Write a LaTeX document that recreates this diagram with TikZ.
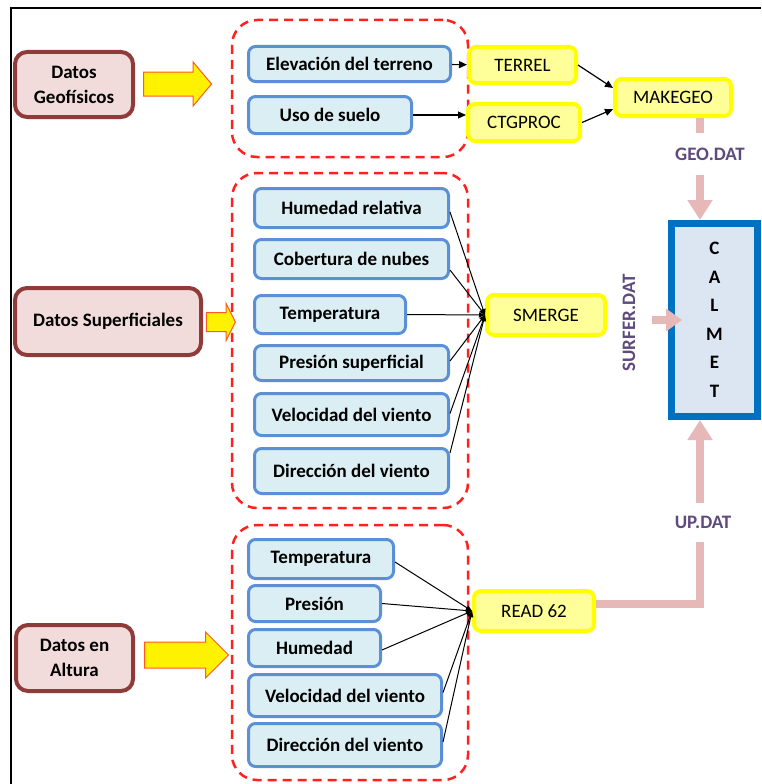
\documentclass[tikz,border=0pt]{standalone}
\usepackage{fontspec}
\setmainfont{Carlito}
\usetikzlibrary{arrows.meta,shapes.arrows}

\definecolor{datoborde}{HTML}{8E3B3A}
\definecolor{datofondo}{HTML}{F2DCDB}
\definecolor{varborde}{HTML}{5B8FD6}
\definecolor{varfondo}{HTML}{DAEEF3}
\definecolor{procborde}{HTML}{FFFF00}
\definecolor{procfondo}{HTML}{FFFF99}
\definecolor{grupoborde}{HTML}{FF2020}
\definecolor{rosa}{HTML}{E6B9B8}
\definecolor{etiq}{HTML}{5F4A7D}
\definecolor{calmetborde}{HTML}{0070C0}
\definecolor{calmetfondo}{HTML}{DCE6F2}
\definecolor{flechaborde}{HTML}{FF5A1F}

\newcommand{\letra}{\fontsize{19}{25}\selectfont}

\begin{document}
\begin{tikzpicture}[x=1pt,y=-1pt]
\tikzstyle{every node}+=[inner sep=0pt]
\tikzstyle{grupo}=[draw=grupoborde, line width=2.5pt, dash pattern=on 9pt off 6pt, rounded corners=25pt]
\tikzstyle{dato}=[draw=datoborde, fill=datofondo, line width=4pt, rounded corners=12pt, align=center, font=\letra\bfseries]
\tikzstyle{var}=[draw=varborde, fill=varfondo, line width=3pt, rounded corners=7pt, font=\letra\bfseries]
\tikzstyle{proc}=[draw=procborde, fill=procfondo, line width=4pt, rounded corners=7pt, font=\letra]
\tikzstyle{flecha}=[single arrow, draw=flechaborde, fill=yellow, line width=1pt]
\tikzstyle{etiqueta}=[text=etiq, font=\letra\bfseries]
\tikzstyle{conector}=[line width=1.2pt, -{Triangle[length=8pt,width=7pt]}]
\tikzstyle{fino}=[line width=1pt, -{Triangle[length=6pt,width=5pt]}]
\tikzstyle{rosalinea}=[draw=rosa, line width=8pt]
\tikzstyle{rosaflecha}=[rosalinea, -{Triangle[length=20pt,width=24pt]}]

\useasboundingbox (0,0) rectangle (761,784);
\draw[line width=1.5pt] (11,784) -- (11,8) -- (761,8);

\node[grupo, minimum width=236pt, minimum height=137pt] (g1) at (350,88.5) {};
\node[grupo, minimum width=236pt, minimum height=335pt] (g2) at (350,340.5) {};
\node[grupo, minimum width=236pt, minimum height=255pt] (g3) at (350,652.5) {};

\node[dato, minimum width=118pt, minimum height=65pt] (geo) at (74,84.5) {Datos\\Geofísicos};
\node[dato, minimum width=186pt, minimum height=67pt] (sup) at (108,321.5) {Datos Superficiales};
\node[dato, minimum width=117pt, minimum height=66pt] (alt) at (74.5,658) {Datos en\\Altura};

\node[flecha, minimum height=68pt, inner ysep=11.5pt, single arrow head extend=10pt, single arrow tip angle=100] (f1) at (172.5,84) {};
\node[flecha, minimum height=29pt, inner ysep=9pt, single arrow head extend=9pt, single arrow tip angle=127] (f2) at (218.5,322) {};
\node[flecha, minimum height=84pt, inner ysep=12.5pt, single arrow head extend=10pt, single arrow tip angle=90] (f3) at (180,655) {};

\node[var, minimum width=202pt, minimum height=35pt] (elev) at (349.5,64) {Elevación del terreno};
\node[var, minimum width=163pt, minimum height=37pt] (uso) at (330,115) {Uso de suelo};

\node[var, minimum width=194pt, minimum height=39pt] (hr) at (351.5,208) {Humedad relativa};
\node[var, minimum width=194pt, minimum height=39pt] (cob) at (351.5,259) {Cobertura de nubes};
\node[var, minimum width=151pt, minimum height=38pt] (temp) at (330,314.5) {Temperatura};
\node[var, minimum width=194pt, minimum height=35pt] (pres) at (351.5,363) {Presión superficial};
\node[var, minimum width=194pt, minimum height=42pt] (vel) at (351.5,414.5) {Velocidad del viento};
\node[var, minimum width=194pt, minimum height=45pt] (dir) at (351.5,471) {Dirección del viento};

\node[var, minimum width=145pt, minimum height=39pt] (temp2) at (321,559) {Temperatura};
\node[var, minimum width=132pt, minimum height=36pt] (pres2) at (314.5,603.5) {Presión};
\node[var, minimum width=132pt, minimum height=37pt] (hum2) at (314.5,648) {Humedad};
\node[var, minimum width=193pt, minimum height=42pt] (vel2) at (345,695.5) {Velocidad del viento};
\node[var, minimum width=193pt, minimum height=43pt] (dir2) at (345,745) {Dirección del viento};

\node[proc, minimum width=107pt, minimum height=36pt] (terrel) at (522.5,65) {TERREL};
\node[proc, minimum width=112pt, minimum height=37pt] (ctg) at (524,122.5) {CTGPROC};
\node[proc, minimum width=116pt, minimum height=37pt] (makegeo) at (673,97.5) {MAKEGEO};
\node[proc, minimum width=118pt, minimum height=40pt] (smerge) at (546,315) {SMERGE};
\node[proc, minimum width=120pt, minimum height=40pt] (read) at (534,611) {READ 62};

\node[draw=calmetborde, fill=calmetfondo, line width=7pt, minimum width=86pt, minimum height=193pt, align=center, font=\fontsize{19}{28.5}\selectfont\bfseries] (calmet) at (714.5,320) {C\\A\\L\\M\\E\\T};

\node[etiqueta, minimum height=42pt] (geodat) at (710,154) {GEO.DAT};
\node[etiqueta, rotate=90, minimum height=46pt] (surfer) at (629,323) {SURFER.DAT};
\node[etiqueta, minimum height=39pt] (updat) at (703,522.5) {UP.DAT};
\coordinate (eje) at (700,0);

\draw[conector] (elev) -- (terrel);
\draw[conector] (uso.east) -- (uso.east -| ctg.west);
\draw[conector] (terrel.east) -- (makegeo.171);
\draw[conector] (ctg.east) -- (makegeo.191);

\foreach \v/\d in {hr/-4,cob/-11,temp/0,pres/2,vel/1,dir/18}
  \draw[fino] ([yshift=\d pt]\v.east) -- (smerge.west);
\foreach \v/\d in {temp2/-3,pres2/0,hum2/-2,vel2/3,dir2/3}
  \draw[fino] ([yshift=\d pt]\v.east) -- (read.west);

\draw[rosalinea] (makegeo.south -| eje) -- (geodat.north -| eje);
\draw[rosaflecha] (geodat.south -| eje) -- (calmet.north -| eje);
\draw[rosalinea, -{Triangle[length=16pt,width=22pt]}] (surfer.south |- calmet.west) -- ([xshift=14pt]calmet.west);
\draw[rosaflecha] (updat.north -| eje) -- (calmet.south -| eje);
\draw[rosalinea] ([yshift=7pt]read.east) -| (updat.south -| eje);
\end{tikzpicture}
\end{document}
